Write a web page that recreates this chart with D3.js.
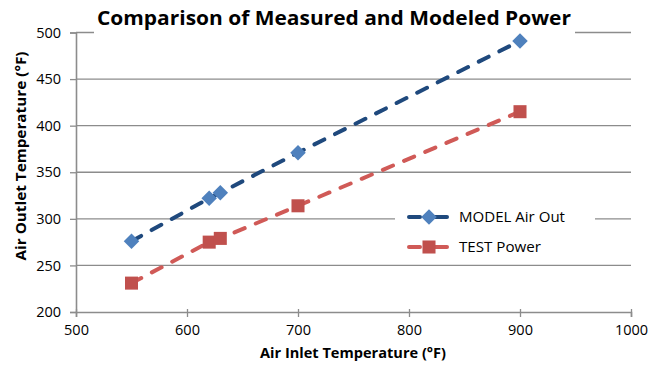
<!DOCTYPE html>
<html><head><meta charset="utf-8">
<script src="https://cdn.jsdelivr.net/npm/d3@7"></script>
<style>body{margin:0;background:#fff}svg{display:block}text{font-family:"Open Sans",sans-serif;fill:#000}</style>
</head><body><svg id="c" width="651" height="365"></svg>
<script>
const inletTemps = [550, 620, 630, 700, 900];
const modelAirOut = [276, 322, 328, 371, 491];
const testPower = [231, 275, 279, 314, 415];
const xTicks = [500, 600, 700, 800, 900, 1000];
const yTicks = [200, 250, 300, 350, 400, 450, 500];
const seriesNames = ["MODEL Air Out", "TEST Power"];

const svg = d3.select("#c");
const x = d3.scaleLinear().domain([500, 1000]).range([76, 631]);
const y = d3.scaleLinear().domain([200, 500]).range([312, 32.5]);

// gridlines
svg.append("g").selectAll("line").data(yTicks.slice(1)).join("line")
  .attr("x1", 76).attr("x2", 631).attr("y1", d => y(d)).attr("y2", d => y(d))
  .attr("stroke", "#8c8c8c").attr("stroke-width", 1.3);

// axes
const yAxis = svg.append("g").attr("transform", "translate(76,0)")
  .call(d3.axisLeft(y).tickValues(yTicks).tickFormat(d3.format("d")).tickSize(6).tickPadding(9));
const xAxis = svg.append("g").attr("transform", "translate(0,312)")
  .call(d3.axisBottom(x).tickValues(xTicks).tickFormat(d3.format("d")).tickSize(5).tickPadding(8));
[yAxis, xAxis].forEach(g => {
  g.select(".domain").attr("stroke", "#8c8c8c").attr("stroke-width", 1.6);
  g.selectAll(".tick line").attr("stroke", "#8c8c8c").attr("stroke-width", 1.3);
  g.selectAll(".tick text").style("font-size", "14.5px").attr("fill", "#000");
});
xAxis.selectAll(".tick line").attr("y1", -3);

// title (white backing over top gridline)
svg.append("rect").attr("x", 94).attr("y", 28).attr("width", 481).attr("height", 8).attr("fill", "#fff");
svg.append("text").attr("x", 334).attr("y", 25).attr("text-anchor", "middle")
  .style("font-size", "20px").style("font-weight", "bold")
  .attr("textLength", 474).attr("lengthAdjust", "spacingAndGlyphs")
  .text("Comparison of Measured and Modeled Power");

// axis titles
svg.append("text").attr("x", 353).attr("y", 358).attr("text-anchor", "middle")
  .style("font-size", "14px").style("font-weight", "bold")
  .attr("textLength", 186).attr("lengthAdjust", "spacingAndGlyphs")
  .text("Air Inlet Temperature (°F)");
svg.append("text").attr("transform", "translate(26,156) rotate(-90)").attr("text-anchor", "middle")
  .style("font-size", "14px").style("font-weight", "bold")
  .attr("textLength", 209).attr("lengthAdjust", "spacingAndGlyphs")
  .text("Air Outlet Temperature (°F)");

const diamond = {draw(ctx, size) { const r = Math.sqrt(size / 2); ctx.moveTo(0, -r); ctx.lineTo(r, 0); ctx.lineTo(0, r); ctx.lineTo(-r, 0); ctx.closePath(); }};
const series = [
  {name: seriesNames[0], vals: modelAirOut, line: "#1F497D", fill: "#4F81BD", shape: diamond, size: 120},
  {name: seriesNames[1], vals: testPower, line: "#D05A57", fill: "#C0504D", shape: d3.symbolSquare, size: 170}
];
const lineGen = d3.line().x(d => x(d[0])).y(d => y(d[1]));

const plot = svg.append("g");
series.forEach(s => {
  const pts = inletTemps.map((t, i) => [t, s.vals[i]]);
  plot.append("path").attr("d", lineGen(pts)).attr("fill", "none")
    .attr("stroke", s.line).attr("stroke-width", 4).attr("stroke-linecap", "round")
    .attr("stroke-dasharray", "11,12");
  plot.selectAll(null).data(pts).join("path")
    .attr("transform", d => `translate(${x(d[0])},${y(d[1])})`)
    .attr("d", d3.symbol().type(s.shape).size(s.size))
    .attr("fill", s.fill);
});

// legend
const lg = svg.append("g");
lg.append("rect").attr("x", 395).attr("y", 204).attr("width", 200).attr("height", 58).attr("fill", "#fff");
series.forEach((s, i) => {
  const cy = 217 + i * 30;
  lg.append("line").attr("x1", 409).attr("x2", 447).attr("y1", cy).attr("y2", cy)
    .attr("stroke", s.line).attr("stroke-width", 4).attr("stroke-linecap", "round")
    .attr("stroke-dasharray", "11,12");
  lg.append("line").attr("x1", 437).attr("x2", 447).attr("y1", cy).attr("y2", cy)
    .attr("stroke", s.line).attr("stroke-width", 4).attr("stroke-linecap", "round");
  lg.append("path").attr("transform", `translate(429,${cy})`)
    .attr("d", d3.symbol().type(s.shape).size(s.size))
    .attr("fill", s.fill);
  const tl = i === 0 ? 106 : 82;
  lg.append("text").attr("x", 459).attr("y", cy + 5).style("font-size", "14.5px")
    .attr("textLength", tl).attr("lengthAdjust", "spacingAndGlyphs").text(s.name);
});
</script></body></html>
